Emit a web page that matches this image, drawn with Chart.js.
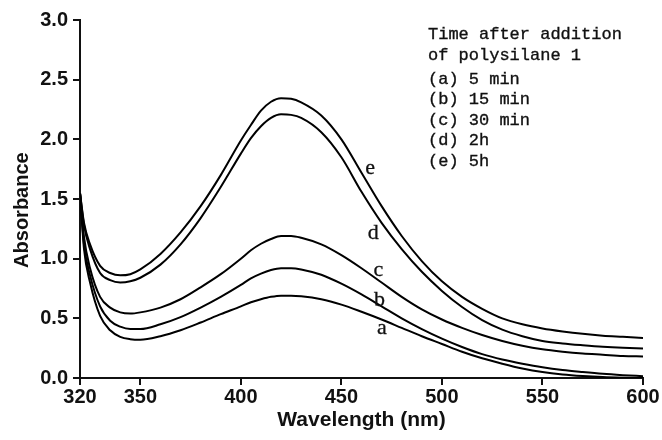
<!DOCTYPE html>
<html>
<head>
<meta charset="utf-8">
<title>Absorbance vs wavelength</title>
<script src="https://cdn.jsdelivr.net/npm/chart.js@4.4.1/dist/chart.umd.min.js"></script>
<style>
  html, body { margin: 0; padding: 0; background: #fff; }
  #wrap { width: 662px; height: 440px; }
</style>
</head>
<body>
<div id="wrap"><canvas id="spectra" width="662" height="440"></canvas></div>
<script>
// UV-vis spectra after addition of polysilane 1

const wavelengths = [320, 322, 325, 330, 335, 340, 345, 350, 360, 370, 380, 390, 400, 405, 410, 415, 420, 425,
                     430, 440, 450, 460, 470, 480, 490, 500, 510, 520, 530, 540, 550, 560, 570, 580, 590, 600];

const curveA = [1.55, 1.08, 0.80, 0.52, 0.40, 0.345, 0.325, 0.32, 0.35, 0.40, 0.465, 0.535, 0.60, 0.635, 0.66, 0.68, 0.69, 0.69,
                0.685, 0.66, 0.615, 0.555, 0.49, 0.42, 0.35, 0.285, 0.22, 0.165, 0.12, 0.08, 0.05, 0.03, 0.017, 0.008, 0.003, 0.0];
const curveB = [1.55, 1.12, 0.86, 0.60, 0.48, 0.43, 0.41, 0.41, 0.45, 0.51, 0.59, 0.68, 0.78, 0.835, 0.875, 0.905, 0.92, 0.92,
                0.91, 0.865, 0.79, 0.70, 0.60, 0.50, 0.41, 0.33, 0.26, 0.20, 0.155, 0.12, 0.09, 0.067, 0.05, 0.035, 0.024, 0.015];
const curveC = [1.55, 1.18, 0.92, 0.68, 0.59, 0.55, 0.54, 0.55, 0.59, 0.66, 0.76, 0.87, 1.00, 1.07, 1.125, 1.165, 1.19, 1.19,
                1.175, 1.12, 1.03, 0.92, 0.80, 0.68, 0.575, 0.49, 0.42, 0.36, 0.31, 0.27, 0.24, 0.22, 0.205, 0.195, 0.185, 0.18];
const curveD = [1.55, 1.28, 1.08, 0.88, 0.82, 0.80, 0.81, 0.84, 0.95, 1.12, 1.34, 1.60, 1.88, 2.01, 2.11, 2.18, 2.21, 2.205,
                2.18, 2.06, 1.85, 1.56, 1.30, 1.08, 0.89, 0.73, 0.595, 0.485, 0.405, 0.35, 0.31, 0.29, 0.275, 0.262, 0.253, 0.247];
const curveE = [1.55, 1.30, 1.12, 0.94, 0.88, 0.86, 0.87, 0.91, 1.04, 1.22, 1.44, 1.70, 1.99, 2.12, 2.24, 2.315, 2.345, 2.34,
                2.31, 2.20, 2.00, 1.72, 1.44, 1.19, 0.98, 0.81, 0.68, 0.58, 0.50, 0.45, 0.415, 0.39, 0.37, 0.355, 0.345, 0.335];

const curveNames = ["a", "b", "c", "d", "e"];
const labelWavelength = [470.1, 468.9, 468.4, 465.9, 464.3];
const labelAbsorbance = [0.417, 0.654, 0.905, 1.213, 1.757];

const xTicks = [320, 350, 400, 450, 500, 550, 600];
const yTicks = [0.0, 0.5, 1.0, 1.5, 2.0, 2.5, 3.0];

const legendLines = [
    "Time after addition",
    "of polysilane 1",
    "(a) 5 min",
    "(b) 15 min",
    "(c) 30 min",
    "(d) 2h",
    "(e) 5h"
];

function toPoints(values) {
    return wavelengths.map((w, i) => ({ x: w, y: values[i] }));
}

function series(name, values) {
    return {
        label: name,
        data: toPoints(values),
        borderColor: "#000",
        borderWidth: 2,
        pointRadius: 0,
        fill: false,
        cubicInterpolationMode: "monotone"
    };
}

// curve letters next to each trace
const curveLabelPlugin = {
    id: "curveLabels",
    afterDatasetsDraw(chart) {
        const ctx = chart.ctx;
        const xs = chart.scales.x, ys = chart.scales.y;
        ctx.save();
        ctx.fillStyle = "#111";
        ctx.strokeStyle = "#111";
        ctx.lineWidth = 0.3;
        ctx.font = '22px "Liberation Serif", serif';
        ctx.textAlign = "center";
        ctx.textBaseline = "middle";
        curveNames.forEach((n, i) => {
            const px = xs.getPixelForValue(labelWavelength[i]);
            const py = ys.getPixelForValue(labelAbsorbance[i]);
            ctx.fillText(n, px, py);
            ctx.strokeText(n, px, py);
        });
        ctx.restore();
    }
};

// text block in the upper right
const noteBlockPlugin = {
    id: "noteBlock",
    afterDraw(chart) {
        const ctx = chart.ctx;
        ctx.save();
        ctx.fillStyle = "#111";
        ctx.strokeStyle = "#111";
        ctx.lineWidth = 0.35;
        ctx.font = '17px "Liberation Mono", monospace';
        ctx.textAlign = "left";
        ctx.textBaseline = "alphabetic";
        const x0 = 428;
        legendLines.forEach((t, i) => {
            let y;
            if (i === 0) y = 38.5;
            else if (i === 1) y = 59.5;
            else y = 83.5 + (i - 2) * 20.6;
            ctx.fillText(t, x0, y);
            ctx.strokeText(t, x0, y);
        });
        ctx.restore();
    }
};

const axisFont = { family: "'Liberation Sans', Arial, sans-serif", size: 20, weight: "bold" };

new Chart(document.getElementById("spectra"), {
    type: "line",
    data: {
        datasets: [
            series("a", curveA),
            series("b", curveB),
            series("c", curveC),
            series("d", curveD),
            series("e", curveE)
        ]
    },
    options: {
        responsive: false,
        animation: false,
        layout: { padding: { left: 10, top: 20, right: 19, bottom: 7 } },
        plugins: {
            legend: { display: false },
            tooltip: { enabled: false }
        },
        scales: {
            x: {
                type: "linear",
                min: 320,
                max: 600,
                afterBuildTicks: s => { s.ticks = xTicks.map(v => ({ value: v })); },
                afterFit: s => { s.height = 55; },
                ticks: { color: "#111", font: axisFont, padding: 0, maxRotation: 0 },
                grid: { display: true, drawOnChartArea: false, drawTicks: true, tickLength: 7, color: "#111", lineWidth: 2 },
                border: { display: true, color: "#111", width: 2 },
                title: {
                    display: true,
                    text: "Wavelength (nm)",
                    color: "#111",
                    font: { family: "'Liberation Sans', Arial, sans-serif", size: 21, weight: "bold" },
                    padding: 0
                }
            },
            y: {
                type: "linear",
                min: 0,
                max: 3,
                afterBuildTicks: s => { s.ticks = yTicks.map(v => ({ value: v })); },
                afterFit: s => { s.width = 70; },
                ticks: { color: "#111", font: axisFont, padding: 5, callback: v => Number(v).toFixed(1) },
                grid: { display: true, drawOnChartArea: false, drawTicks: true, tickLength: 7, color: "#111", lineWidth: 2 },
                border: { display: true, color: "#111", width: 2 },
                title: {
                    display: true,
                    // trailing spaces nudge the rotated title a little lower, as in the original
                    text: "Absorbance    ",
                    color: "#111",
                    font: { family: "'Liberation Sans', Arial, sans-serif", size: 20, weight: "bold" },
                    padding: 0
                }
            }
        }
    },
    plugins: [curveLabelPlugin, noteBlockPlugin]
});
</script>
</body>
</html>
